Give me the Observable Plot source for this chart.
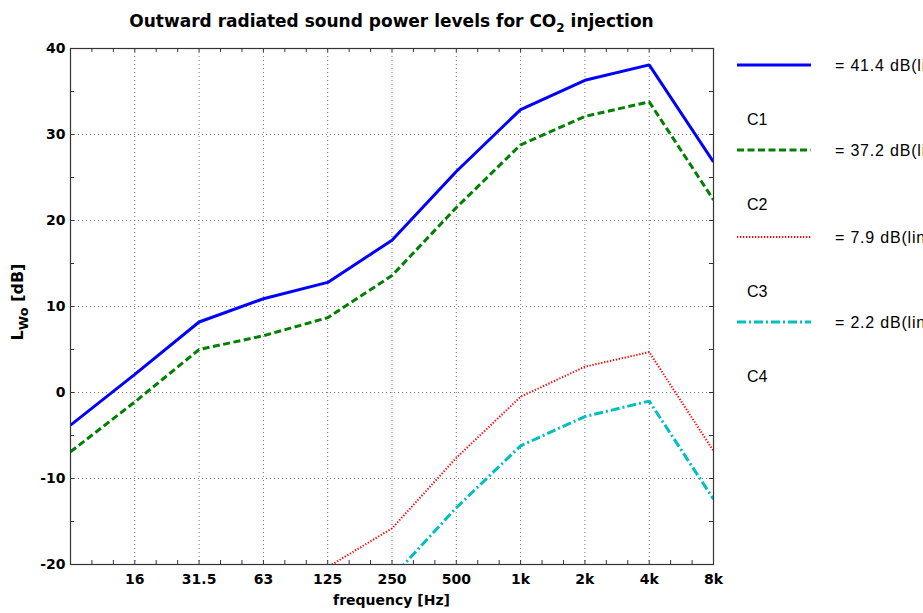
<!DOCTYPE html>
<html>
<head>
<meta charset="utf-8">
<script src="https://cdn.jsdelivr.net/npm/d3@7"></script>
<script src="https://cdn.jsdelivr.net/npm/@observablehq/plot@0.6"></script>
<style>
  html, body { margin: 0; padding: 0; background: #fff; overflow: hidden; }
  #chart svg { display: block; overflow: hidden; }
</style>
</head>
<body>
<div id="chart"></div>
<script>
// Octave band centre frequencies (index positions 0..10)
const bands = ["8", "16", "31.5", "63", "125", "250", "500", "1k", "2k", "4k", "8k"];
const tickLabels = ["", "16", "31.5", "63", "125", "250", "500", "1k", "2k", "4k", "8k"];

// Series values (dB) per band
const c1 = [-3.8, 2.1, 8.2, 10.9, 12.8, 17.7, 25.7, 32.9, 36.3, 38.1, 26.8];
const c2 = [-6.9, -1.1, 5.0, 6.6, 8.7, 13.6, 21.5, 28.8, 32.1, 33.8, 22.4];
const c3 = [-26, -24, -23, -21.5, -20.3, -15.8, -7.6, -0.5, 3.0, 4.7, -6.8];
const c4 = [-30, -28, -27, -25, -24, -21.5, -13.4, -6.2, -2.8, -1.0, -12.4];

const seriesNames = ["C1", "C2", "C3", "C4"];
const legendTexts = ["= 41.4 dB(lin)", "= 37.2 dB(lin)", "= 7.9 dB(lin)", "= 2.2 dB(lin)"];

const yMajor = [-20, -10, 0, 10, 20, 30, 40];
const yMinor = [-15, -5, 5, 15, 25, 35];
const xMajor = d3.range(0, 11);
const xMinor = d3.range(0, 31).map(i => i / 3).filter(v => Math.abs(v - Math.round(v)) > 1e-6);

const styles = [
  {stroke: "#0000ff", strokeWidth: 3, strokeDasharray: null},
  {stroke: "#008000", strokeWidth: 3, strokeDasharray: "7,3.5"},
  {stroke: "#ff0000", strokeWidth: 2, strokeDasharray: "1.3,1.7"},
  {stroke: "#00bfbf", strokeWidth: 3, strokeDasharray: "9,3,2,3"}
];

const allSeries = [c1, c2, c3, c4];

const W = 923, H = 613;
const mL = 70, mR = 210, mT = 48, mB = 49;
const tickLenX = 4 / ((W - mL - mR) / 10);
const tickLenY = 4 / ((H - mT - mB) / 60);

const frameColor = "#333";
const gridStyle = {stroke: "#777", strokeOpacity: 1, strokeWidth: 1, strokeDasharray: "1,3"};

const marks = [
  Plot.gridX(xMajor.slice(1, 10), gridStyle),
  Plot.gridY(yMajor.slice(1, 6), gridStyle),
  // inward ticks on all four sides
  Plot.ruleX(xMajor.concat(xMinor), {x: d => d, y1: -20, y2: -20 + tickLenY, stroke: frameColor}),
  Plot.ruleX(xMajor.concat(xMinor), {x: d => d, y1: 40, y2: 40 - tickLenY, stroke: frameColor}),
  Plot.ruleY(yMajor.concat(yMinor), {y: d => d, x1: 0, x2: tickLenX, stroke: frameColor}),
  Plot.ruleY(yMajor.concat(yMinor), {y: d => d, x1: 10, x2: 10 - tickLenX, stroke: frameColor}),
  ...allSeries.map((s, k) => Plot.line(s, {
    x: (d, i) => i, y: d => d,
    stroke: styles[k].stroke, strokeWidth: styles[k].strokeWidth,
    strokeDasharray: styles[k].strokeDasharray, clip: true,
    strokeLinejoin: "miter", strokeLinecap: "butt"
  })),
  Plot.frame({stroke: frameColor, strokeWidth: 1.2}),
  Plot.axisX(xMajor, {
    anchor: "bottom", tickSize: 0, tickPadding: 10,
    tickFormat: i => tickLabels[i],
    fontSize: 14, fontWeight: "bold", fill: "#000",
    label: null
  }),
  Plot.axisY(yMajor, {
    anchor: "left", tickSize: 0, tickPadding: 5,
    tickFormat: d => String(d),
    fontSize: 14, fontWeight: "bold", fill: "#000",
    label: null
  })
];

const svg = Plot.plot({
  width: W, height: H,
  marginLeft: mL, marginRight: mR, marginTop: mT, marginBottom: mB,
  style: {fontFamily: "'DejaVu Sans', sans-serif", background: "#fff", color: "#000"},
  x: {type: "linear", domain: [0, 10]},
  y: {domain: [-20, 40]},
  marks
});

const s = d3.select(svg);
const cx = mL + (W - mL - mR) / 2;

// Title with subscript
const title = s.append("text")
  .attr("x", cx).attr("y", 27)
  .attr("text-anchor", "middle")
  .style("font-family", "'DejaVu Sans', sans-serif")
  .style("font-size", "17px").style("font-weight", "bold").attr("fill", "#000");
title.append("tspan").text("Outward radiated sound power levels for CO");
title.append("tspan").attr("dy", 5).style("font-size", "12px").text("2");
title.append("tspan").attr("dy", -5).text(" injection");

// x label
s.append("text")
  .attr("x", cx).attr("y", 605)
  .attr("text-anchor", "middle")
  .style("font-family", "'DejaVu Sans', sans-serif")
  .style("font-size", "14px").style("font-weight", "bold").attr("fill", "#000")
  .text("frequency [Hz]");

// y label with subscript
const yl = s.append("text")
  .attr("transform", "translate(23,302) rotate(-90)")
  .attr("text-anchor", "middle")
  .style("font-family", "'DejaVu Sans', sans-serif")
  .style("font-size", "16px").style("font-weight", "bold").attr("fill", "#000");
yl.append("tspan").text("L");
yl.append("tspan").attr("dy", 5).style("font-size", "13px").text("Wo");
yl.append("tspan").attr("dy", -5).text(" [dB]");

// Legend
const legendY = [65, 150, 237, 322];
seriesNames.forEach((name, k) => {
  const y = legendY[k];
  s.append("line")
    .attr("x1", 737).attr("x2", 811).attr("y1", y).attr("y2", y)
    .attr("stroke", styles[k].stroke).attr("stroke-width", styles[k].strokeWidth)
    .attr("stroke-dasharray", styles[k].strokeDasharray);
  s.append("text")
    .attr("x", 835).attr("y", y + 6)
    .attr("text-anchor", "start")
    .style("font-family", "'Liberation Sans', Arial, sans-serif")
    .style("font-size", "16px").style("letter-spacing", "0.8px").attr("fill", "#000")
    .text(legendTexts[k]);
  s.append("text")
    .attr("x", 747).attr("y", y + 60)
    .attr("text-anchor", "start")
    .style("font-family", "'Liberation Sans', Arial, sans-serif")
    .style("font-size", "16px").attr("fill", "#000")
    .text(name);
});

document.getElementById("chart").appendChild(svg);
</script>
</body>
</html>
